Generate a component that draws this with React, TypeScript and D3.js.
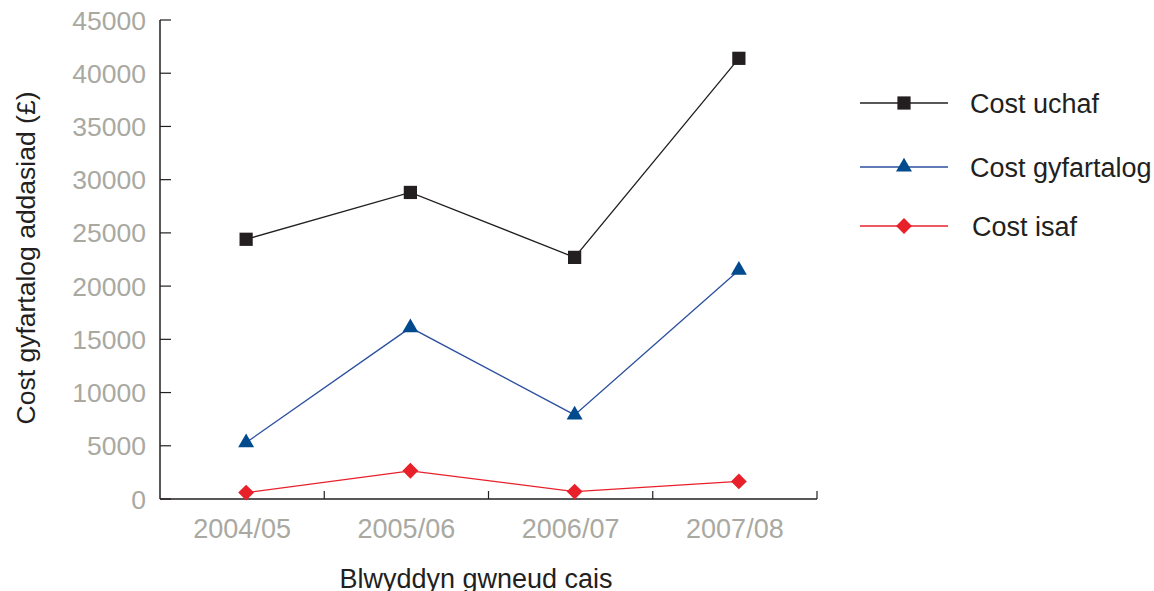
import React from "react";
import * as d3 from "d3";

const categories = ["2004/05", "2005/06", "2006/07", "2007/08"];
const costUchaf = [24400, 28800, 22700, 41400];
const costGyfartalog = [5300, 16100, 7900, 21500];
const costIsaf = [600, 2650, 700, 1650];
const yTicks = [0, 5000, 10000, 15000, 20000, 25000, 30000, 35000, 40000, 45000];

const series = [
  { name: "Cost uchaf", values: costUchaf, line: "#231f20", marker: "#231f20", shape: "square" },
  { name: "Cost gyfartalog", values: costGyfartalog, line: "#2b4f9e", marker: "#004a8d", shape: "triangle" },
  { name: "Cost isaf", values: costIsaf, line: "#e8202a", marker: "#e8202a", shape: "diamond" },
];

const W = 1154, H = 591;
const left = 160, right = 817, top = 20, bottom = 499;

function symbolPath(shape: string) {
  if (shape === "square") return d3.symbol(d3.symbolSquare, 175)();
  if (shape === "triangle") return d3.symbol(d3.symbolTriangle, 110)();
  return d3.symbol(d3.symbolDiamond2, 160)();
}

export default function App() {
  const x = d3.scaleBand<string>().domain(categories).range([left, right]);
  const y = d3.scaleLinear().domain([0, 45000]).range([bottom, top]);
  const px = (c: string) => (x(c) as number) + x.bandwidth() / 2 + 4;
  const line = d3.line<number>().x((_, i) => px(categories[i])).y((v) => y(v));
  const font = "'Liberation Sans', Arial, Helvetica, sans-serif";
  const tickColor = "#a9a9a2";
  const legendY = [103, 167, 226];
  const bounds = [...categories.map((c) => x(c) as number), right];

  return (
    <svg width={W} height={H} style={{ position: "absolute", left: 0, top: 0 }} fontFamily={font}>
      {/* axes */}
      <line x1={left} x2={left} y1={top} y2={bottom} stroke="#231f20" strokeWidth={1.5} />
      <line x1={left} x2={right} y1={bottom} y2={bottom} stroke="#231f20" strokeWidth={1.5} />
      {yTicks.map((t) => (
        <g key={t}>
          <line x1={left} x2={left + 11} y1={y(t)} y2={y(t)} stroke="#231f20" strokeWidth={1.2} />
          <text x={146} y={y(t)} dy="0.36em" textAnchor="end" fontSize={26.5} fill={tickColor}>
            {t}
          </text>
        </g>
      ))}
      {bounds.slice(1).map((b, i) => (
        <line key={i} x1={b} x2={b} y1={bottom} y2={bottom - 8} stroke="#231f20" strokeWidth={1.2} />
      ))}
      {categories.map((c) => (
        <text key={c} x={(x(c) as number) + x.bandwidth() / 2} y={538} textAnchor="middle" fontSize={27} fill={tickColor}>
          {c}
        </text>
      ))}
      <text x={476} y={588} textAnchor="middle" fontSize={27} fill="#231f20">
        Blwyddyn gwneud cais
      </text>
      <text
        transform={`translate(35, 258) rotate(-90)`}
        textAnchor="middle"
        fontSize={26.5}
        fill="#231f20"
      >
        Cost gyfartalog addasiad (£)
      </text>
      {/* series */}
      {series.map((s) => (
        <g key={s.name}>
          <path d={line(s.values) as string} fill="none" stroke={s.line} strokeWidth={1.3} />
          {s.values.map((v, i) => (
            <path
              key={i}
              d={symbolPath(s.shape) as string}
              transform={`translate(${px(categories[i])},${y(v)})`}
              fill={s.marker}
            />
          ))}
        </g>
      ))}
      {/* legend */}
      {series.map((s, i) => (
        <g key={s.name} transform={`translate(0,${legendY[i]})`}>
          <line x1={860} x2={948} y1={0} y2={0} stroke={s.line} strokeWidth={1.3} />
          <path d={symbolPath(s.shape) as string} transform={`translate(904,0)`} fill={s.marker} />
          <text x={i === 2 ? 972 : 970} y={0} dy="0.36em" fontSize={27} fill="#231f20">
            {s.name}
          </text>
        </g>
      ))}
    </svg>
  );
}
